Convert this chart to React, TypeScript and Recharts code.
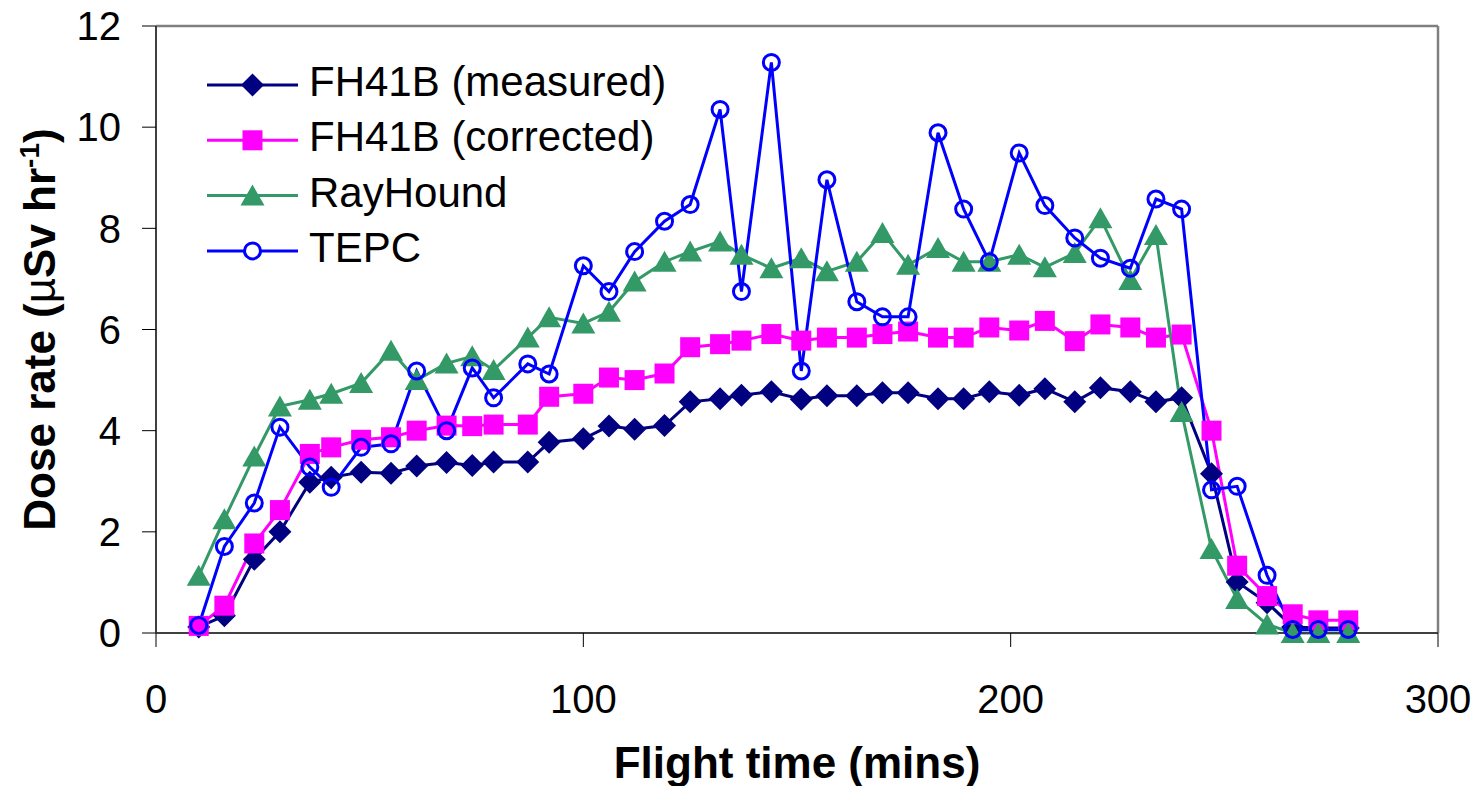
import React from 'react';
import { LineChart, Line, XAxis, YAxis, Legend, ReferenceLine, Label } from 'recharts';

const times = [10, 16, 23, 29, 36, 41, 48, 55, 61, 68, 74, 79, 87, 92, 100, 106, 112, 119, 125, 132, 137, 144, 151, 157, 164, 170, 176, 183, 189, 195, 202, 208, 215, 221, 228, 234, 240, 247, 253, 260, 266, 272, 279];
const fh41bMeasured = [0.12, 0.34, 1.46, 2.0, 2.98, 3.08, 3.18, 3.16, 3.3, 3.37, 3.31, 3.38, 3.38, 3.77, 3.84, 4.09, 4.03, 4.1, 4.57, 4.63, 4.7, 4.77, 4.62, 4.69, 4.69, 4.75, 4.75, 4.63, 4.63, 4.77, 4.7, 4.83, 4.57, 4.85, 4.77, 4.57, 4.65, 3.15, 1.01, 0.6, 0.12, 0.1, 0.1];
const fh41bCorrected = [0.14, 0.54, 1.77, 2.43, 3.54, 3.67, 3.82, 3.87, 4.0, 4.1, 4.09, 4.12, 4.12, 4.67, 4.73, 5.05, 5.0, 5.13, 5.65, 5.71, 5.78, 5.91, 5.78, 5.84, 5.84, 5.91, 5.96, 5.84, 5.84, 6.04, 5.98, 6.17, 5.77, 6.1, 6.04, 5.84, 5.9, 4.0, 1.33, 0.73, 0.37, 0.25, 0.25];
const rayHound = [1.13, 2.25, 3.49, 4.48, 4.61, 4.73, 4.94, 5.58, 5.0, 5.33, 5.47, 5.2, 5.84, 6.24, 6.12, 6.35, 6.95, 7.34, 7.54, 7.74, 7.48, 7.21, 7.41, 7.15, 7.34, 7.91, 7.28, 7.61, 7.34, 7.34, 7.48, 7.23, 7.51, 8.2, 6.98, 7.87, 4.37, 1.66, 0.67, 0.17, 0, 0, 0];
const tepc = [0.15, 1.71, 2.57, 4.07, 3.28, 2.88, 3.67, 3.74, 5.18, 4.0, 5.24, 4.65, 5.32, 5.12, 7.26, 6.75, 7.54, 8.14, 8.47, 10.35, 6.75, 11.28, 5.18, 8.96, 6.55, 6.25, 6.25, 9.89, 8.38, 7.34, 9.49, 8.45, 7.81, 7.41, 7.21, 8.58, 8.38, 2.83, 2.9, 1.14, 0.07, 0.07, 0.07];

const xTicks = [0, 100, 200, 300];
const yTicks = [0, 2, 4, 6, 8, 10, 12];

const seriesNames = ['FH41B (measured)', 'FH41B (corrected)', 'RayHound', 'TEPC'];
const seriesKeys = ['measured', 'corrected', 'ray', 'tepc'];
const seriesColors = ['#000080', '#FF00FF', '#339966', '#0000FF'];
const seriesMarkers = ['diamond', 'square', 'triangle', 'circle'];

const data = times.map((t, i) => ({
  t,
  measured: fh41bMeasured[i],
  corrected: fh41bCorrected[i],
  ray: rayHound[i],
  tepc: tepc[i],
}));

const FONT = '"Liberation Sans", Arial, Helvetica, sans-serif';

function Marker({ kind, cx, cy, color, legend }: { kind: string; cx: number; cy: number; color: string; legend?: boolean }) {
  if (cx == null || cy == null || isNaN(cx) || isNaN(cy)) return null;
  switch (kind) {
    case 'diamond':
      return <polygon points={`${cx},${cy - 11.5} ${cx + 11.5},${cy} ${cx},${cy + 11.5} ${cx - 11.5},${cy}`} fill={color} />;
    case 'square':
      return <rect x={cx - 10} y={cy - 10} width={20} height={20} fill={color} />;
    case 'triangle':
      return <polygon points={`${cx},${cy - 11} ${cx + 12},${cy + 10} ${cx - 12},${cy + 10}`} fill={color} />;
    default:
      return <circle cx={cx} cy={cy} r={8} fill={legend ? '#fff' : 'none'} stroke={color} strokeWidth={3} />;
  }
}

function makeDot(kind: string, color: string) {
  return (p: any) => <Marker key={`d-${kind}-${p.index}`} kind={kind} cx={p.cx} cy={p.cy} color={color} />;
}

function LegendContent(props: any) {
  const payload = [...(props.payload || [])].sort(
    (a: any, b: any) => seriesKeys.indexOf(a.dataKey) - seriesKeys.indexOf(b.dataKey)
  );
  return (
    <svg width={470} height={225} style={{ display: 'block', overflow: 'visible' }}>
      {payload.map((item: any, i: number) => {
        const idx = seriesKeys.indexOf(item.dataKey);
        const cy = 28 + i * 55.3;
        return (
          <g key={item.dataKey}>
            <line x1={0} x2={91} y1={cy} y2={cy} stroke={seriesColors[idx]} strokeWidth={3} />
            <Marker kind={seriesMarkers[idx]} cx={45.5} cy={cy} color={seriesColors[idx]} legend />
            <text x={102} y={cy + 11} fontSize={42} fontFamily={FONT} fill="#000">
              {item.value}
            </text>
          </g>
        );
      })}
    </svg>
  );
}

function XTitle(props: any) {
  const vb = props.viewBox || { x: 156, y: 633, width: 1282, height: 153 };
  return (
    <text x={vb.x + vb.width / 2} y={vb.y + 145} textAnchor="middle" fontSize={44} fontWeight="bold" fontFamily={FONT} fill="#000">
      Flight time (mins)
    </text>
  );
}

function YTitle(props: any) {
  const vb = props.viewBox || { x: 0, y: 26, width: 156, height: 607 };
  const x = vb.x + 55;
  const y = vb.y + vb.height / 2;
  return (
    <text x={x} y={y} transform={`rotate(-90, ${x}, ${y})`} textAnchor="middle" fontSize={44} fontWeight="bold" fontFamily={FONT} fill="#000">
      <tspan>Dose rate (</tspan>
      <tspan fontWeight="normal">µ</tspan>
      <tspan>Sv hr</tspan>
      <tspan dy={-16} fontSize={28}>-1</tspan>
      <tspan dy={16}>)</tspan>
    </text>
  );
}

export default function App() {
  return (
    <div style={{ position: 'absolute', left: 0, top: 0, width: 1479, height: 786, background: '#fff' }}>
      <LineChart width={1479} height={786} data={data} margin={{ top: 26, right: 41, left: 0, bottom: 0 }}>
        <XAxis
          type="number"
          dataKey="t"
          domain={[0, 300]}
          ticks={xTicks}
          interval={0}
          height={153}
          tickSize={14}
          tickMargin={38}
          axisLine={{ stroke: '#404040', strokeWidth: 2 }}
          tickLine={{ stroke: '#000', strokeWidth: 1 }}
          tick={{ fontSize: 40, fill: '#000', fontFamily: FONT }}
        >
          <Label content={XTitle} />
        </XAxis>
        <YAxis
          type="number"
          domain={[0, 12]}
          ticks={yTicks}
          interval={0}
          width={156}
          tickSize={14}
          tickMargin={21}
          axisLine={{ stroke: '#404040', strokeWidth: 2 }}
          tickLine={{ stroke: '#000', strokeWidth: 1 }}
          tick={{ fontSize: 40, fill: '#000', fontFamily: FONT }}
        >
          <Label content={YTitle} />
        </YAxis>
        <ReferenceLine y={12} stroke="#808080" strokeWidth={2.5} />
        <ReferenceLine x={300} stroke="#808080" strokeWidth={2.5} />
        <Legend
          layout="vertical"
          align="center"
          verticalAlign="middle"
          content={LegendContent}
          wrapperStyle={{ position: 'absolute', left: 207, top: 57, width: 470, height: 225 }}
        />
        {seriesKeys.map((k, i) => (
          <Line
            key={k}
            type="linear"
            dataKey={k}
            name={seriesNames[i]}
            stroke={seriesColors[i]}
            strokeWidth={3}
            dot={makeDot(seriesMarkers[i], seriesColors[i])}
            activeDot={false}
            isAnimationActive={false}
          />
        ))}
      </LineChart>
    </div>
  );
}
